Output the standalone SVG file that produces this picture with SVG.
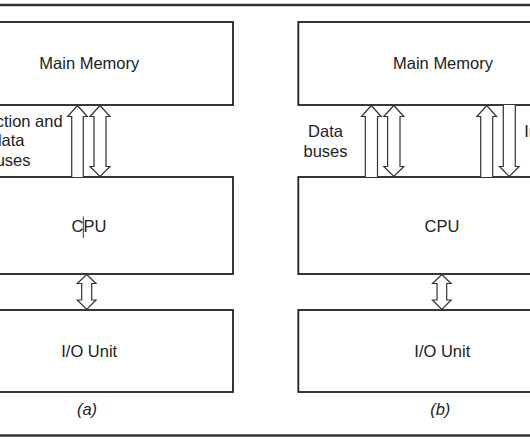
<svg xmlns="http://www.w3.org/2000/svg" width="530" height="443" viewBox="0 0 530 443">
<style>
.box{fill:#fff;stroke:#222;stroke-width:1.8}
.rule{stroke:#333;stroke-width:2.5}
.arr{fill:#fff;stroke:#333;stroke-width:1.2;stroke-linejoin:miter}
text{font-family:"Liberation Sans",Arial,sans-serif;font-size:16.5px;fill:#222}
.c{text-anchor:middle}
.cap{font-style:italic}
</style>
<rect width="530" height="443" fill="#fff"/>
<line class="rule" x1="0" y1="5" x2="530" y2="5"/>
<line class="rule" x1="0" y1="435.5" x2="530" y2="435.5"/>

<g id="a-main-memory"><rect class="box" x="-55" y="22" width="288" height="83"/><text class="c" x="89.3" y="69.3">Main Memory</text></g>
<g id="a-cpu"><rect class="box" x="-55" y="177" width="288" height="97"/><text class="c" x="89" y="232">CPU</text><line x1="83.3" y1="216.5" x2="83.3" y2="238" stroke="#333" stroke-width="1"/></g>
<g id="a-io"><rect class="box" x="-55" y="310" width="288" height="82"/><text class="c" x="89.2" y="356.5">I/O Unit</text></g>
<g id="a-label"><text class="c" x="8.5" y="126.5">Instruction and</text><text class="c" x="8.5" y="146">data</text><text class="c" x="8.5" y="165.5">buses</text></g>
<g id="a-caption"><text class="c cap" x="87" y="415">(a)</text></g>

<g id="b-main-memory"><rect class="box" x="298.3" y="22" width="290" height="83"/><text class="c" x="443" y="69.3">Main Memory</text></g>
<g id="b-cpu"><rect class="box" x="298.3" y="177" width="290" height="97"/><text class="c" x="442" y="232">CPU</text></g>
<g id="b-io"><rect class="box" x="298.3" y="310" width="290" height="82"/><text class="c" x="442.3" y="356.5">I/O Unit</text></g>
<g id="b-data-label"><text class="c" x="325.5" y="136.5">Data</text><text class="c" x="325.5" y="157">buses</text></g>
<g id="b-instr-label"><text class="c" x="562.3" y="136.5">Instruction</text><text class="c" x="562.3" y="157">buses</text></g>
<g id="b-caption"><text class="c cap" x="440.3" y="415">(b)</text></g>

<g id="connectors">
<path class="arr" d="M71.7,177 V116.5 H67.7 L77.5,105.5 L87.3,116.5 H83.3 V177"/>
<path class="arr" d="M94,116.5 H90 L100,105.5 L110,116.5 H106 V166.5 H110 L100,176.5 L90,166.5 H94 Z"/>
<path class="arr" d="M81.7,283.5 H77.3 L86.7,274.5 L96,283.5 H91.7 V300 H96 L86.7,309.5 L77.3,300 H81.7 Z"/>

<path class="arr" d="M365.3,177 V116.5 H361.5 L371.3,105.5 L381.1,116.5 H377.5 V177"/>
<path class="arr" d="M387.6,116.5 H383.8 L393.8,105.5 L403.8,116.5 H400 V166.5 H403.8 L393.8,176.5 L383.8,166.5 H387.6 Z"/>
<path class="arr" d="M480.7,177 V116.5 H476.9 L486.7,105.5 L496.5,116.5 H492.7 V177"/>
<path class="arr" d="M503.3,105 V166.5 H499.5 L509.3,176.5 L519.1,166.5 H515.3 V105"/>
<path class="arr" d="M437,283.5 H432.5 L441.8,274.5 L451.1,283.5 H446.7 V300 H451.1 L441.8,309.5 L432.5,300 H437 Z"/>
</g>
</svg>
